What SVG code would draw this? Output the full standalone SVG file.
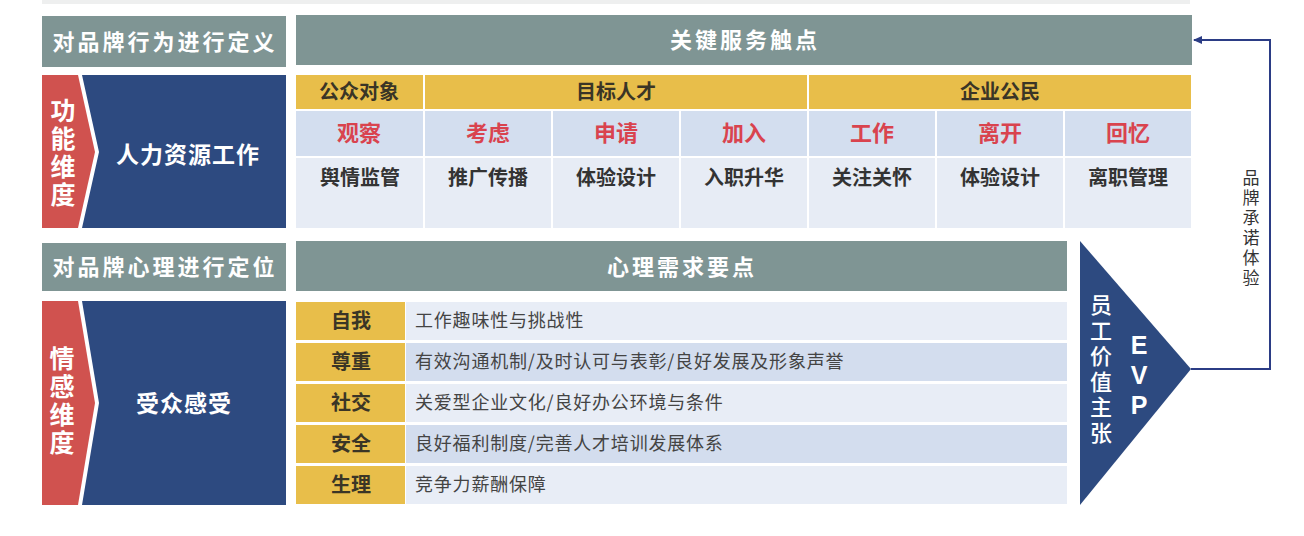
<svg xmlns="http://www.w3.org/2000/svg" width="1304" height="536" viewBox="0 0 1304 536">
<defs>
<style>
text{font-family:"Noto Sans CJK SC","Liberation Sans",sans-serif;}
.hdr{fill:#7F9594;}
.ht{fill:#fff;font-size:22px;font-weight:bold;letter-spacing:3px;text-anchor:middle;dominant-baseline:central;}
.red{fill:#D0524F;}
.blue{fill:#2D4A80;}
.wt{fill:#fff;font-weight:bold;text-anchor:middle;dominant-baseline:central;}
.vt{writing-mode:vertical-rl;text-orientation:upright;}
.yel{fill:#E8BE4A;}
.r2{fill:#D3DEEF;}
.r3{fill:#E7ECF5;}
.yt{fill:#3A3526;font-size:20px;font-weight:bold;text-anchor:middle;dominant-baseline:central;}
.rt{fill:#D9434E;font-size:22px;font-weight:bold;text-anchor:middle;dominant-baseline:central;}
.bt{fill:#333;font-size:20px;font-weight:bold;text-anchor:middle;dominant-baseline:central;}
.pl{fill:#3A3526;font-size:20px;font-weight:bold;text-anchor:middle;dominant-baseline:central;}
.pt{fill:#444;font-size:18px;letter-spacing:0.8px;dominant-baseline:central;}
.lt{fill:#E8EDF6;}
.dk{fill:#D3DDEE;}
</style>
<marker id="ah" markerWidth="10" markerHeight="10" refX="8" refY="5" orient="auto" markerUnits="userSpaceOnUse">
<path d="M0,1 L9,5 L0,9 Z" fill="#2B3C85"/>
</marker>
</defs>
<rect x="42" y="0" width="1148" height="4" fill="#EEEFEF"/>

<g id="hdr-behavior">
<rect class="hdr" x="42" y="16" width="244" height="51"/>
<text class="ht" x="165" y="40">对品牌行为进行定义</text>
</g>
<g id="hdr-touchpoints">
<rect class="hdr" x="296" y="15" width="896" height="50"/>
<text class="ht" x="745" y="38">关键服务触点</text>
</g>

<g id="func-dim">
<polygon class="red" points="42,75 78,75 95,152 78,228 42,228"/>
<text class="vt" x="63" y="97.5" fill="#fff" font-weight="bold" font-size="25" letter-spacing="3">功能维度</text>
</g>
<g id="hr-work">
<polygon class="blue" points="82,75 286,75 286,228 82,228 99,152"/>
<text class="wt" x="188" y="153" font-size="23" letter-spacing="1">人力资源工作</text>
</g>

<g id="touch-table">
<rect class="yel" x="296" y="75" width="127" height="34"/>
<text class="yt" x="359" y="90">公众对象</text>
<rect class="yel" x="425" y="75" width="382" height="34"/>
<text class="yt" x="616" y="90">目标人才</text>
<rect class="yel" x="809" y="75" width="382" height="34"/>
<text class="yt" x="1000" y="90">企业公民</text>

<rect class="r2" x="296" y="111" width="127" height="45"/>
<rect class="r2" x="425" y="111" width="126" height="45"/>
<rect class="r2" x="553" y="111" width="126" height="45"/>
<rect class="r2" x="681" y="111" width="126" height="45"/>
<rect class="r2" x="809" y="111" width="126" height="45"/>
<rect class="r2" x="937" y="111" width="126" height="45"/>
<rect class="r2" x="1065" y="111" width="126" height="45"/>
<text class="rt" x="359" y="131">观察</text>
<text class="rt" x="488" y="131">考虑</text>
<text class="rt" x="616" y="131">申请</text>
<text class="rt" x="744" y="131">加入</text>
<text class="rt" x="872" y="131">工作</text>
<text class="rt" x="1000" y="131">离开</text>
<text class="rt" x="1128" y="131">回忆</text>

<rect class="r3" x="296" y="158" width="127" height="70"/>
<rect class="r3" x="425" y="158" width="126" height="70"/>
<rect class="r3" x="553" y="158" width="126" height="70"/>
<rect class="r3" x="681" y="158" width="126" height="70"/>
<rect class="r3" x="809" y="158" width="126" height="70"/>
<rect class="r3" x="937" y="158" width="126" height="70"/>
<rect class="r3" x="1065" y="158" width="126" height="70"/>
<text class="bt" x="360" y="176">舆情监管</text>
<text class="bt" x="488" y="176">推广传播</text>
<text class="bt" x="616" y="176">体验设计</text>
<text class="bt" x="744" y="176">入职升华</text>
<text class="bt" x="872" y="176">关注关怀</text>
<text class="bt" x="1000" y="176">体验设计</text>
<text class="bt" x="1128" y="176">离职管理</text>
</g>

<g id="hdr-psych">
<rect class="hdr" x="42" y="243" width="244" height="48"/>
<text class="ht" x="165" y="265">对品牌心理进行定位</text>
</g>
<g id="hdr-needs">
<rect class="hdr" x="296" y="241" width="771" height="50"/>
<text class="ht" x="682" y="265">心理需求要点</text>
</g>

<g id="emo-dim">
<polygon class="red" points="42,301 78,301 95,403 78,505 42,505"/>
<text class="vt" x="62" y="345.5" fill="#fff" font-weight="bold" font-size="25" letter-spacing="3">情感维度</text>
</g>
<g id="audience">
<polygon class="blue" points="82,301 286,301 286,505 82,505 99,403"/>
<text class="wt" x="184" y="402" font-size="23" letter-spacing="1">受众感受</text>
</g>

<g id="needs-table">
<rect class="yel" x="296" y="302" width="109" height="38"/>
<rect class="lt" x="406" y="302" width="661" height="38"/>
<text class="pl" x="351" y="319">自我</text>
<text class="pt" x="415" y="319">工作趣味性与挑战性</text>

<rect class="yel" x="296" y="343" width="109" height="38"/>
<rect class="dk" x="406" y="343" width="661" height="38"/>
<text class="pl" x="351" y="360">尊重</text>
<text class="pt" x="415" y="360">有效沟通机制/及时认可与表彰/良好发展及形象声誉</text>

<rect class="yel" x="296" y="384" width="109" height="38"/>
<rect class="lt" x="406" y="384" width="661" height="38"/>
<text class="pl" x="351" y="401">社交</text>
<text class="pt" x="415" y="401">关爱型企业文化/良好办公环境与条件</text>

<rect class="yel" x="296" y="425" width="109" height="38"/>
<rect class="dk" x="406" y="425" width="661" height="38"/>
<text class="pl" x="351" y="442">安全</text>
<text class="pt" x="415" y="442">良好福利制度/完善人才培训发展体系</text>

<rect class="yel" x="296" y="466" width="109" height="38"/>
<rect class="lt" x="406" y="466" width="661" height="38"/>
<text class="pl" x="351" y="483">生理</text>
<text class="pt" x="415" y="483">竞争力薪酬保障</text>
</g>

<g id="evp">
<polygon class="blue" points="1080,241 1191,369 1080,505"/>
<text class="vt" x="1101" y="294" fill="#fff" font-size="22" font-weight="500" letter-spacing="3.5">员工价值主张</text>
<text class="wt" font-size="25" style="font-family:'Liberation Sans',sans-serif;font-weight:900"><tspan x="1139" y="345">E</tspan><tspan x="1139" y="375">V</tspan><tspan x="1139" y="405">P</tspan></text>
</g>

<g id="connectors">
<path d="M1191,369 H1270 V40 H1194" fill="none" stroke="#2B3C85" stroke-width="2" marker-end="url(#ah)"/>
<text class="vt" x="1251" y="169.5" fill="#333" font-size="17" letter-spacing="3">品牌承诺体验</text>
</g>
</svg>
